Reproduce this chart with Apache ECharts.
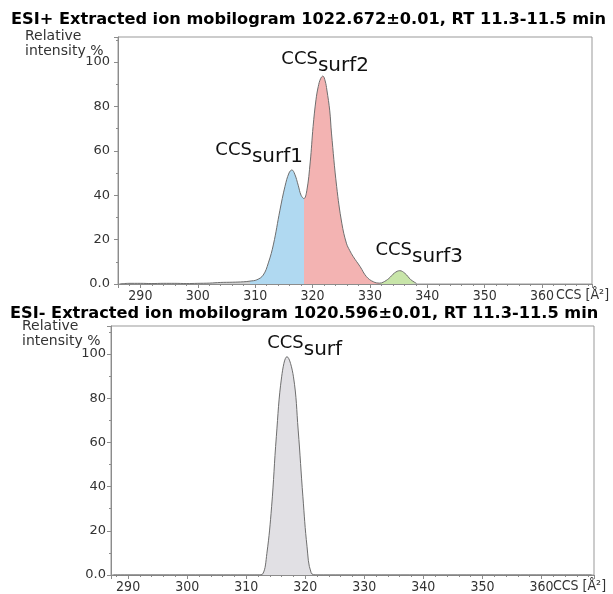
<!DOCTYPE html>
<html><head><meta charset="utf-8">
<script src="https://cdn.jsdelivr.net/npm/echarts@6/dist/echarts.min.js"></script>
<style>html,body{margin:0;padding:0;background:#fff}#c{width:613px;height:594px}</style>
</head><body><div id="c"></div>
<script>
const posTitle = 'ESI+ Extracted ion mobilogram 1022.672\u00b10.01, RT 11.3-11.5 min';
const negTitle = 'ESI- Extracted ion mobilogram 1020.596\u00b10.01, RT 11.3-11.5 min';
const yAxisTitle = 'Relative\nintensity %';
const xAxisTitle = 'CCS [\u00c5\u00b2]';

const posCCS = [286.5, 288, 290, 292, 294, 296, 298, 300, 302, 304, 306, 308, 309.1, 310.3, 311.4, 312.3, 313.2, 314.3, 315.2, 315.9, 316.4, 316.9, 317.5, 318.0, 318.5, 319.0, 319.6, 320.1, 320.6, 321.0, 321.4, 321.8, 322.2, 322.5, 323.0, 323.3, 324.2, 325.1, 325.9, 326.5, 327.1, 328.3, 329.4, 330.6, 331.7, 332.3, 333.3, 334.3, 335.2, 336.1, 337.1, 338.1];
const posIntensity = [0, 0.3, 0.3, 0.2, 0.3, 0.3, 0.2, 0.3, 0.4, 0.7, 0.8, 1.0, 1.3, 1.9, 4, 9.5, 18, 33, 44, 50, 51.4, 49.5, 44.5, 40, 38.5, 42, 55, 71, 83, 89, 92.5, 93.7, 91.5, 87.4, 78, 68, 44, 27.4, 18.4, 15, 12.3, 7.8, 3.3, 1.0, 0.4, 0.8, 2.5, 5, 6.0, 4.8, 2.0, 0.3];

const negCCS = [287.5, 300, 310, 312.0, 312.8, 313.5, 314.3, 315.1, 316.0, 316.9, 318.0, 318.8, 319.6, 320.3, 321.0, 322, 330, 368.5];
const negIntensity = [0, 0, 0, 0, 0.5, 9.8, 30.9, 62.6, 89.7, 98.8, 89.7, 65.6, 35.4, 12.8, 1, 0, 0, 0];

const posRegionBounds = [309.1, 318.5, 331.7];
const posPeakNames = ['surf1', 'surf2', 'surf3'];
const posPeakAnchors = [[310.7, 59], [322.2, 100], [338.6, 14]];
const negPeakName = 'surf';
const negPeakAnchor = [319.9, 103.6];

const colBlue = '#b0d9f1', colRed = '#f3b3b2', colGreen = '#c8e5a9', colGray = '#e1e0e4', colBase = '#d0d0d0';
const outline = '#6e6e6e';
const axisGray = '#8c8c8c';
const narrow = "'Liberation Sans Narrow','DejaVu Sans Condensed',sans-serif";

const posData = posCCS.map((x, i) => [x, posIntensity[i]]);
const negData = negCCS.map((x, i) => [x, negIntensity[i]]);

function xAxisDef(gi, min, max) {
  return {
    type: 'value', gridIndex: gi, min: min, max: max, splitNumber: 8,
    axisLine: { show: true, lineStyle: { color: axisGray, width: 1 } },
    axisTick: { show: true, inside: false, length: 4, lineStyle: { color: axisGray } },
    minorTick: { show: true, splitNumber: 5, length: 2, lineStyle: { color: axisGray } },
    splitLine: { show: false },
    axisLabel: {
      margin: 5, fontFamily: narrow, fontSize: 14, color: '#333',
      showMinLabel: false, showMaxLabel: false,
      formatter: v => (Math.abs(v - Math.round(v / 10) * 10) < 1e-6 ? String(Math.round(v)) : '')
    }
  };
}
function yAxisDef(gi, max, margin) {
  return {
    type: 'value', gridIndex: gi, min: 0, max: max, interval: 20,
    axisLine: { show: true, lineStyle: { color: axisGray, width: 1 } },
    axisTick: { show: true, inside: false, length: 4, lineStyle: { color: axisGray } },
    minorTick: { show: true, splitNumber: 2, length: 2, lineStyle: { color: axisGray } },
    splitLine: { show: false },
    axisLabel: {
      margin: margin, fontFamily: 'DejaVu Sans', fontSize: 13, color: '#333',
      showMaxLabel: false,
      formatter: v => (v === 0 ? '0.0' : (v % 20 === 0 && v <= 100 ? String(v) : ''))
    }
  };
}
function peakLabel(name, coord) {
  return {
    coord: coord, symbol: 'circle', symbolSize: 1,
    itemStyle: { color: 'rgba(0,0,0,0)' },
    label: {
      show: true, position: 'inside',
      formatter: '{c|CCS}{s|' + name + '}',
      rich: {
        c: { fontFamily: 'DejaVu Sans', fontSize: 18, color: '#111', padding: [0, 0, 6, 0] },
        s: { fontFamily: 'DejaVu Sans', fontSize: 20, color: '#111', padding: [7, 0, 0, 0] }
      }
    }
  };
}

const chart = echarts.init(document.getElementById('c'), null, { renderer: 'canvas' });
chart.setOption({
  animation: false,
  backgroundColor: '#fff',
  grid: [
    { left: 118, right: 21, top: 37, bottom: 310, show: true, borderColor: '#999', borderWidth: 1, backgroundColor: 'transparent' },
    { left: 111, right: 19, top: 326, bottom: 19, show: true, borderColor: '#999', borderWidth: 1, backgroundColor: 'transparent' }
  ],
  xAxis: [xAxisDef(0, 286.1, 368.7), xAxisDef(1, 287.1, 368.9)],
  yAxis: [yAxisDef(0, 111.3, 8), yAxisDef(1, 112.7, 5)],
  visualMap: {
    type: 'piecewise', show: false, dimension: 0, seriesIndex: 0,
    pieces: [
      { lt: posRegionBounds[0], color: colBase },
      { gte: posRegionBounds[0], lt: posRegionBounds[1], color: colBlue },
      { gte: posRegionBounds[1], lt: posRegionBounds[2], color: colRed },
      { gte: posRegionBounds[2], color: colGreen }
    ]
  },
  series: [
    {
      type: 'line', xAxisIndex: 0, yAxisIndex: 0, data: posData, smooth: 0.4,
      symbol: 'none', lineStyle: { width: 0, opacity: 0 }, areaStyle: { opacity: 1 }, z: 2
    },
    {
      type: 'line', xAxisIndex: 0, yAxisIndex: 0, data: posData, smooth: 0.4,
      symbol: 'none', lineStyle: { width: 1, color: outline }, itemStyle: { color: outline }, z: 3,
      markPoint: { data: posPeakNames.map((n, i) => peakLabel(n, posPeakAnchors[i])) }
    },
    {
      type: 'line', xAxisIndex: 1, yAxisIndex: 1, data: negData, smooth: 0.4,
      symbol: 'none', lineStyle: { width: 1, color: outline }, itemStyle: { color: outline },
      areaStyle: { color: colGray, opacity: 1 }, z: 3,
      markPoint: { data: [peakLabel(negPeakName, negPeakAnchor)] }
    }
  ],
  graphic: [
    { type: 'text', left: 11, top: 12, style: { text: posTitle, font: 'bold 16.2px "DejaVu Sans"', fill: '#000' } },
    { type: 'text', left: 10, top: 306, style: { text: negTitle, font: 'bold 16.2px "DejaVu Sans"', fill: '#000' } },
    { type: 'text', left: 25, top: 29, style: { text: yAxisTitle, font: '14px "DejaVu Sans"', fill: '#333', lineHeight: 15 } },
    { type: 'text', left: 22, top: 319, style: { text: yAxisTitle, font: '14px "DejaVu Sans"', fill: '#333', lineHeight: 15 } },
    { type: 'text', left: 556, top: 288, style: { text: xAxisTitle, font: '14px ' + narrow, fill: '#333' } },
    { type: 'text', left: 553, top: 579, style: { text: xAxisTitle, font: '14px ' + narrow, fill: '#333' } }
  ]
});
</script></body></html>
